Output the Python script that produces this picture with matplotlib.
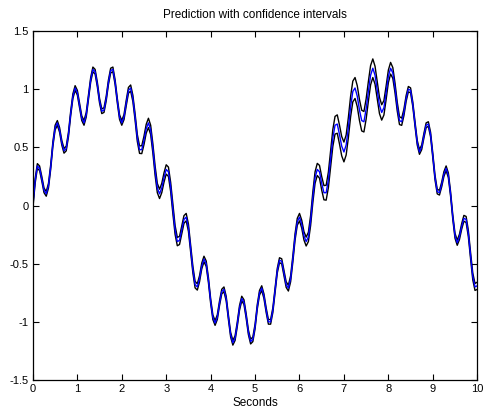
import numpy as np
import matplotlib
matplotlib.use('Agg')
import matplotlib.pyplot as plt

plt.rcParams['font.family'] = ['Liberation Sans', 'DejaVu Sans']

# sample times, 0..10 s every 0.05 s
t = np.linspace(0, 10, 201)

# predicted output
pred = [
    0.00, 0.21, 0.34, 0.32, 0.23, 0.13, 0.10, 0.17, 0.33, 0.53,
    0.67, 0.71, 0.65, 0.54, 0.47, 0.49, 0.61, 0.79, 0.94, 1.01,
    0.97, 0.86, 0.75, 0.71, 0.78, 0.93, 1.08, 1.17, 1.15, 1.04,
    0.90, 0.81, 0.82, 0.92, 1.06, 1.16, 1.17, 1.06, 0.90, 0.76,
    0.71, 0.76, 0.88, 0.99, 1.01, 0.92, 0.76, 0.58, 0.48, 0.48,
    0.56, 0.66, 0.71, 0.65, 0.49, 0.30, 0.15, 0.10, 0.15, 0.24,
    0.31, 0.29, 0.16, -0.03, -0.21, -0.31, -0.30, -0.21, -0.12, -0.10,
    -0.19, -0.37, -0.55, -0.68, -0.70, -0.63, -0.52, -0.46, -0.50, -0.64,
    -0.82, -0.96, -1.01, -0.96, -0.84, -0.74, -0.72, -0.80, -0.96, -1.11,
    -1.18, -1.14, -1.02, -0.88, -0.80, -0.83, -0.95, -1.09, -1.17, -1.15,
    -1.04, -0.87, -0.75, -0.71, -0.78, -0.90, -1.00, -1.00, -0.90, -0.73,
    -0.56, -0.47, -0.48, -0.58, -0.68, -0.71, -0.63, -0.46, -0.27, -0.14,
    -0.10, -0.16, -0.26, -0.31, -0.27, -0.13, 0.07, 0.24, 0.31, 0.29,
    0.19, 0.11, 0.11, 0.22, 0.40, 0.58, 0.69, 0.70, 0.61, 0.51,
    0.46, 0.52, 0.67, 0.85, 0.98, 1.01, 0.94, 0.82, 0.73, 0.72,
    0.83, 0.98, 1.12, 1.18, 1.12, 0.99, 0.86, 0.80, 0.84, 0.97,
    1.11, 1.18, 1.14, 1.01, 0.85, 0.73, 0.72, 0.80, 0.92, 1.00,
    0.99, 0.87, 0.70, 0.54, 0.46, 0.50, 0.60, 0.69, 0.70, 0.61,
    0.43, 0.24, 0.12, 0.11, 0.18, 0.27, 0.32, 0.26, 0.10, -0.10,
    -0.26, -0.32, -0.27, -0.18, -0.11, -0.12, -0.24, -0.43, -0.61, -0.70,
    -0.69,
]

# half width of the confidence interval
ci = [
    0.020, 0.020, 0.020, 0.020, 0.020, 0.020, 0.020, 0.020, 0.020, 0.020,
    0.020, 0.020, 0.020, 0.020, 0.020, 0.020, 0.020, 0.020, 0.020, 0.020,
    0.020, 0.020, 0.020, 0.020, 0.020, 0.020, 0.020, 0.020, 0.020, 0.020,
    0.020, 0.020, 0.020, 0.020, 0.020, 0.020, 0.020, 0.020, 0.020, 0.020,
    0.020, 0.022, 0.024, 0.025, 0.026, 0.027, 0.028, 0.030, 0.032, 0.034,
    0.036, 0.038, 0.040, 0.040, 0.040, 0.040, 0.040, 0.040, 0.040, 0.040,
    0.040, 0.040, 0.040, 0.040, 0.038, 0.036, 0.035, 0.034, 0.033, 0.032,
    0.031, 0.030, 0.029, 0.028, 0.027, 0.026, 0.025, 0.024, 0.023, 0.022,
    0.021, 0.020, 0.020, 0.020, 0.020, 0.020, 0.020, 0.020, 0.020, 0.020,
    0.020, 0.020, 0.020, 0.020, 0.020, 0.020, 0.020, 0.020, 0.020, 0.020,
    0.020, 0.020, 0.020, 0.020, 0.020, 0.020, 0.020, 0.020, 0.020, 0.020,
    0.020, 0.021, 0.022, 0.023, 0.024, 0.025, 0.026, 0.027, 0.028, 0.030,
    0.032, 0.034, 0.036, 0.038, 0.040, 0.043, 0.046, 0.049, 0.052, 0.055,
    0.058, 0.061, 0.064, 0.067, 0.070, 0.073, 0.076, 0.079, 0.081, 0.083,
    0.085, 0.086, 0.087, 0.088, 0.089, 0.090, 0.090, 0.090, 0.089, 0.088,
    0.087, 0.085, 0.083, 0.080, 0.077, 0.074, 0.070, 0.066, 0.062, 0.058,
    0.054, 0.050, 0.046, 0.042, 0.038, 0.034, 0.031, 0.028, 0.025, 0.023,
    0.021, 0.020, 0.020, 0.020, 0.020, 0.020, 0.020, 0.020, 0.020, 0.020,
    0.020, 0.020, 0.020, 0.020, 0.020, 0.020, 0.020, 0.020, 0.020, 0.020,
    0.021, 0.022, 0.023, 0.024, 0.025, 0.026, 0.027, 0.028, 0.029, 0.030,
    0.031,
]

xticks = [0, 1, 2, 3, 4, 5, 6, 7, 8, 9, 10]
yticks = [-1.5, -1, -0.5, 0, 0.5, 1, 1.5]

pred = np.array(pred)
ci = np.array(ci)

fig = plt.figure(figsize=(4.84, 4.16), dpi=100)
ax = fig.add_axes([0.068, 0.0865, 0.918, 0.839])

ax.plot(t, pred + ci, color='black', lw=1.0)
ax.plot(t, pred - ci, color='black', lw=1.0)
ax.plot(t, pred, color=(0, 0, 1), lw=1.0)

ax.set_xlim(0, 10)
ax.set_ylim(-1.5, 1.5)
ax.set_xticks(xticks)
ax.set_yticks(yticks)
ax.set_yticklabels(['-1.5', '-1', '-0.5', '0', '0.5', '1', '1.5'])
ax.tick_params(direction='in', length=4, width=0.8, labelsize=8,
               top=True, right=True, pad=3)
for s in ax.spines.values():
    s.set_linewidth(0.9)

ax.set_title('Prediction with confidence intervals', fontsize=8.5, pad=9)
ax.set_xlabel('Seconds', fontsize=8.5, labelpad=2)

fig.savefig('out.png', dpi=100)
